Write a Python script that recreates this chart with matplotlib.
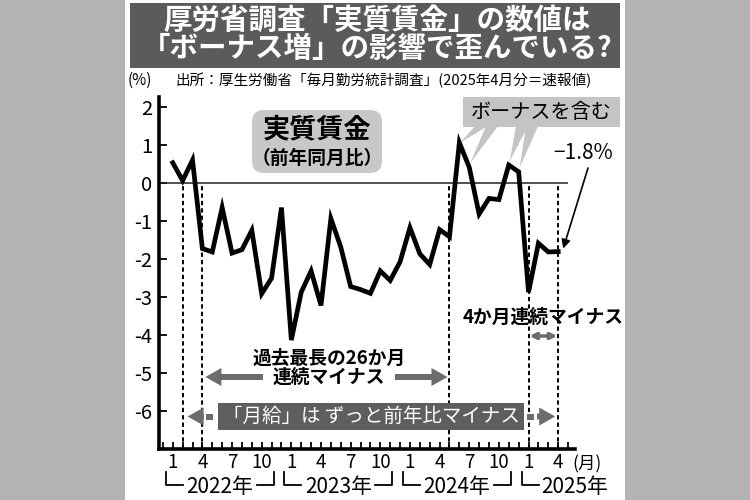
import matplotlib
matplotlib.use('Agg')
import matplotlib.pyplot as plt
import matplotlib.transforms as mtransforms
from matplotlib.patches import Rectangle, FancyBboxPatch, Polygon, FancyArrow, FancyArrowPatch
from matplotlib.lines import Line2D

plt.rcParams['font.family'] = ['Noto Sans CJK JP', 'DejaVu Sans']
plt.rcParams['axes.unicode_minus'] = False

# 実質賃金(前年同月比, %) 2022年1月〜2025年4月
real_wage = [0.54, 0.07, 0.61, -1.72, -1.81, -0.64, -1.84, -1.75, -1.24, -2.91, -2.50, -0.64,
             -4.13, -2.87, -2.31, -3.22, -0.93, -1.68, -2.72, -2.80, -2.90, -2.31, -2.56, -2.07,
             -1.17, -1.86, -2.14, -1.22, -1.41, 1.07, 0.42, -0.81, -0.40, -0.43, 0.48, 0.30,
             -2.87, -1.58, -1.81, -1.80]
years = [2022, 2023, 2024, 2025]
month_no = [m for y in years for m in range(1, 13)][:len(real_wage)]
label_months = [1, 4, 7, 10]
yticks = [2, 1, 0, -1, -2, -3, -4, -5, -6]
guide_idx = [1, 3, 28, 36, 39]      # 22/2, 22/4, 24/5, 25/1, 25/4
bonus_idx = [29, 30, 34, 35]        # 24/6, 24/7, 24/11, 24/12
last_label = '−1.8%'

W, H = 750, 500
fig = plt.figure(figsize=(7.5, 5), dpi=100, facecolor='#b3b3b3')
# pixel coords, origin top-left
pix = mtransforms.Affine2D().scale(1 / W, -1 / H).translate(0, 1) + fig.transFigure

fig.add_artist(Rectangle((125, 0), 500, 500, transform=pix, fc='white', ec='none', zorder=-10))

# ---- axes
L, R, T, B = 159, 575, 96.7, 449
x0, x1 = -1.39, 40.7
y0, y1 = -7.0, 2.28
ax = fig.add_axes([L / W, 1 - B / H, (R - L) / W, (B - T) / H])
ax.set_xlim(x0, x1)
ax.set_ylim(y0, y1)
ax.patch.set_visible(False)


def xpix(i):
    return L + (i - x0) / (x1 - x0) * (R - L)


def ypix(v):
    return B - (v - y0) / (y1 - y0) * (B - T)


ax.plot(range(len(real_wage)), real_wage, color='black', lw=3.4,
        solid_joinstyle='miter', zorder=5)
ax.hlines(0, x0, 40, colors='#222222', lw=1.1, zorder=2)
for i in guide_idx:
    ax.vlines(i, y0, 0, colors='black', linestyles=(0, (2.2, 1.6)), lw=1.4, zorder=3)

for s in ['top', 'right']:
    ax.spines[s].set_visible(False)
for s in ['left', 'bottom']:
    ax.spines[s].set_linewidth(2.6)

xt = list(range(-1, 41))
xl = []
for i in xt:
    if 0 <= i < len(month_no) and month_no[i] in label_months:
        xl.append(str(month_no[i]))
    else:
        xl.append('')
ax.set_xticks(xt)
ax.set_xticklabels(xl)
ax.set_yticks(yticks)
ax.set_yticklabels([str(v) for v in yticks])
ax.tick_params(axis='x', direction='in', length=5, width=1.3, pad=2, labelsize=13.5)
ax.tick_params(axis='y', direction='in', length=6, width=1.3, pad=5, labelsize=14.5)

fig.text(587, 464, '(月)', transform=pix, fontsize=12.5, ha='center', va='center')

# ---- year brackets
for k, yr in enumerate(years):
    xl_ = xpix(12 * k - 0.7)
    if yr != years[-1]:
        xr_ = xpix(12 * k + 10.2)
        xc = (xl_ + xr_) / 2
        fig.text(xc, 487, f'{yr}年', transform=pix, fontsize=15, ha='center', va='center')
        fig.add_artist(Line2D([xl_, xl_, xl_ + 17], [472, 485, 485], transform=pix, color='black', lw=1.3))
        fig.add_artist(Line2D([xr_ - 17, xr_, xr_], [485, 485, 472], transform=pix, color='black', lw=1.3))
    else:
        fig.text(xl_ + 20, 487, f'{yr}年', transform=pix, fontsize=15, ha='left', va='center')
        fig.add_artist(Line2D([xl_, xl_, xl_ + 17], [472, 485, 485], transform=pix, color='black', lw=1.3))

# ---- title
fig.add_artist(Rectangle((130, 3), 490, 65, transform=pix, fc='#5b5b5b', ec='none', zorder=1))
fig.text(377, 21, '厚労省調査「実質賃金」の数値は', transform=pix, color='white',
         fontsize=20.5, fontweight='bold', ha='center', va='center', zorder=2)
fig.text(377, 49, '「ボーナス増」の影響で歪んでいる?', transform=pix, color='white',
         fontsize=20.5, fontweight='bold', ha='center', va='center', zorder=2)
fig.text(140, 80, '(%)', transform=pix, fontsize=11, ha='center', va='center')
fig.text(175, 80, '出所：厚生労働省「毎月勤労統計調査」(2025年4月分＝速報値)', transform=pix,
         fontsize=10.5, ha='left', va='center')

# ---- 実質賃金 label
fig.add_artist(FancyBboxPatch((252, 110), 130, 63, boxstyle='round,pad=0,rounding_size=12',
                              transform=pix, fc='#c8c8c8', ec='none', zorder=-1))
fig.text(317, 129, '実質賃金', transform=pix, fontsize=19.5, fontweight='bold', ha='center', va='center')
fig.text(317, 158, '（前年同月比）', transform=pix, fontsize=13.5, fontweight='bold', ha='center', va='center')

# ---- bonus callout
wedge_c = '#c4c4c4'
bases = [(475, 488), (486, 498), (516, 528), (526, 538)]
for (b1, b2), i in zip(bases, bonus_idx):
    tip = (xpix(i) + 1, ypix(real_wage[i]) - (0 if i == 29 else 4))
    fig.add_artist(Polygon([(b1, 126), (b2, 126), tip], closed=True, transform=pix,
                           fc=wedge_c, ec='none', zorder=-1))
fig.add_artist(Rectangle((463, 97), 157, 30, transform=pix, fc=wedge_c, ec='none', zorder=-1))
fig.text(541, 112, 'ボーナスを含む', transform=pix, fontsize=14.5, ha='center', va='center')

# ---- -1.8% label
fig.text(583, 153, last_label, transform=pix, fontsize=15, ha='center', va='center')
fig.add_artist(FancyArrowPatch((588, 168), (xpix(39) + 5, ypix(real_wage[39]) - 3), transform=pix,
                               arrowstyle='-|>', mutation_scale=13, lw=1.2, color='black',
                               shrinkA=0, shrinkB=0))

# ---- gray arrows
gc = '#6c6c6c'
def garrow(xa, xb, y, w=6, hw=18, hl=16):
    fig.add_artist(FancyArrow(xa, y, xb - xa, 0, width=w, head_width=hw, head_length=hl,
                              length_includes_head=True, transform=pix, fc=gc, ec='none', zorder=4))

fig.text(329, 358, '過去最長の26か月', transform=pix, fontsize=13.5, fontweight='bold', ha='center', va='center')
fig.text(329, 377, '連続マイナス', transform=pix, fontsize=13.5, fontweight='bold', ha='center', va='center')
garrow(263, xpix(3) + 3, 377)
garrow(395, xpix(28) - 2, 377)

fig.add_artist(Rectangle((218, 403), 306, 27, transform=pix, fc='#5e5e5e', ec='none', zorder=4))
fig.text(371, 416.5, '「月給」は ずっと前年比マイナス', transform=pix, fontsize=14,
         color='white', ha='center', va='center', zorder=5)
garrow(204, xpix(1) + 5, 416.5)
fig.add_artist(Rectangle((206, 413.5), 7, 6, transform=pix, fc=gc, ec='none', zorder=4))
fig.add_artist(Rectangle((527, 413.5), 7, 6, transform=pix, fc=gc, ec='none', zorder=4))
garrow(537, xpix(39) - 3, 416.5)

fig.text(543, 317, '4か月連続マイナス', transform=pix, fontsize=13.5, fontweight='bold', ha='center', va='center')
fig.add_artist(FancyArrowPatch((xpix(36) + 1, 336), (xpix(39) - 1, 336), transform=pix,
                               arrowstyle='<|-|>', mutation_scale=9, lw=2.5, color=gc,
                               shrinkA=0, shrinkB=0, zorder=4))

fig.savefig('out.png', dpi=100, facecolor=fig.get_facecolor())
